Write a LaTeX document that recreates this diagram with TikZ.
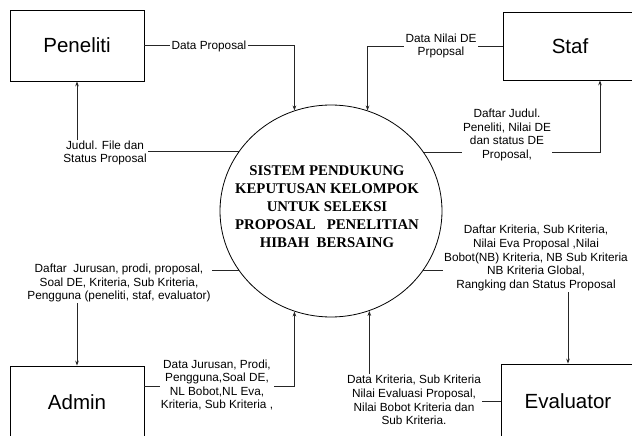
\documentclass[tikz,border=0pt]{standalone}
\usepackage{fontspec}
\setmainfont{Liberation Sans}
\newfontfamily\sysfont{Liberation Serif}
\usetikzlibrary{shapes.geometric,arrows.meta}
\tikzset{
  box/.style={draw=black, line width=0.8pt, minimum width=134pt, inner sep=0pt,
              font=\fontsize{20.5}{24}\selectfont},
  flow/.style={draw=black!85, line width=0.8pt, -{Stealth[length=5pt,width=3.6pt]}},
  lbl/.style={fill=white, inner sep=1.2pt, align=center,
              font=\fontsize{11.8}{13.6}\selectfont}
}
\begin{document}
\begin{tikzpicture}[x=1pt,y=-1pt]
\useasboundingbox (0,0) rectangle (632,436);
\clip (0,0) rectangle (632,436);
\fill[white] (0,0) rectangle (632,436);

% process
\node[draw=black, line width=0.8pt, ellipse, minimum width=222pt, minimum height=212pt, inner sep=0pt] (sys) at (331,211) {};
\node[align=center, font=\sysfont\bfseries\fontsize{14.8}{18}\selectfont] (systxt) at (327,207)
  {SISTEM PENDUKUNG\\KEPUTUSAN KELOMPOK\\UNTUK SELEKSI\\PROPOSAL\ \ \ PENELITIAN\\HIBAH\ \ BERSAING};

% external entities
\node[box, minimum height=71pt] (pen) at (77,45.5) {Peneliti};
\node[box, minimum height=68pt] (staf) at (570,46) {Staf};
\node[box, minimum height=72pt] (adm) at (77,402) {Admin};
\node[box, minimum height=74pt] (eva) at (568,401) {Evaluator};

\coordinate (stafin) at ([xshift=30pt]staf.south);
\coordinate (admout) at ([yshift=16pt]adm.east);

% connectors
\draw[flow] (pen.east) -- (pen.east -| sys.110) -- (sys.110);
\draw[flow] (sys.147) -- (sys.147 -| pen.south) -- (pen.south);
\draw[flow] (staf.west) -- (staf.west -| sys.70) -- (sys.70);
\draw[flow] (sys.32) -- (sys.32 -| stafin) -- (stafin);
\draw[flow] (sys.213) -- (sys.213 -| adm.north) -- (adm.north);
\draw[flow] (admout) -- (admout -| sys.250) -- (sys.250);
\draw[flow] (eva.west) -- (eva.west -| sys.291) -- (sys.291);
\draw[flow] (sys.327) -- (sys.327 -| eva.north) -- (eva.north);

% labels
\node[lbl] (l1) at (209,46) {Data Proposal};
\node[lbl] (l2) at (105,153) {Judul. File dan\\Status Proposal};
\node[lbl] (l3) at (441,46) {Data Nilai DE\\Prpopsal};
\node[lbl] (l4) at (507,135) {Daftar Judul.\\Peneliti, Nilai DE\\dan status DE\\Proposal,};
\node[lbl] (l5) at (119,283) {Daftar\ \ Jurusan, prodi, proposal,\\Soal DE, Kriteria, Sub Kriteria,\\Pengguna (peneliti, staf, evaluator)};
\node[lbl] (l6) at (217,385) {Data Jurusan, Prodi,\\Pengguna,Soal DE,\\NL Bobot,NL Eva,\\Kriteria, Sub Kriteria ,};
\node[lbl] (l7) at (414,400) {Data Kriteria, Sub Kriteria\\Nilai Evaluasi Proposal,\\Nilai Bobot Kriteria dan\\Sub Kriteria.};
\node[lbl] (l8) at (536,258) {Daftar Kriteria, Sub Kriteria,\\Nilai Eva Proposal ,Nilai\\Bobot(NB) Kriteria, NB Sub Kriteria\\NB Kriteria Global,\\Rangking dan Status Proposal};
\end{tikzpicture}
\end{document}
